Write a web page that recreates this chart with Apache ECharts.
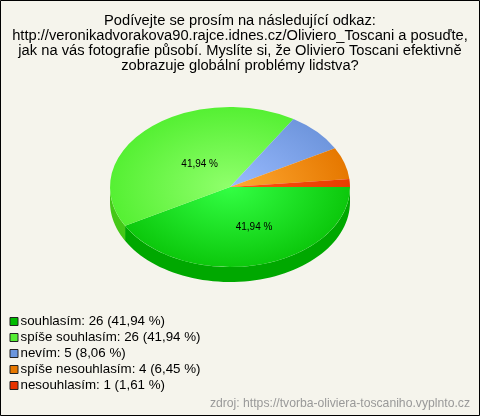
<!DOCTYPE html>
<html><head><meta charset="utf-8">
<style>html,body{margin:0;padding:0;background:#f5f4ec}#c{width:480px;height:416px}</style>
<script src="https://cdn.jsdelivr.net/npm/echarts@6/dist/echarts.min.js"></script>
</head><body><div id="c"></div>
<script>
const categories = ['souhlasím','spíše souhlasím','nevím','spíše nesouhlasím','nesouhlasím'];
const counts = [26,26,5,4,1];
const percents = ['41,94','41,94','8,06','6,45','1,61'];
const titleLines = ['Podívejte se prosím na následující odkaz:','http://veronikadvorakova90.rajce.idnes.cz/Oliviero_Toscani a posuďte,','jak na vás fotografie působí. Myslíte si, že Oliviero Toscani efektivně','zobrazuje globální problémy lidstva?'];
const sourceText = 'zdroj: https://tvorba-oliviera-toscaniho.vyplnto.cz';

const baseColors = ['#00bb00','#55ee33','#6b96dd','#e67700','#e63300'];
const edgeColors = ['#0cc80c','#55f033','#6f96dd','#e67800','#e63c00'];
const centerColors = ['#33ff44','#90ff6c','#99bbff','#ffaa33','#ff5511'];
const wallColors = ['#00a800','#45c818','#5580c0','#c06000','#c02800'];
const labelNudge = [[9,2],[11,6],[0,0],[0,0],[0,0]];

const CX=230, CY=187, RX=120, RY=80, DEPTH=15;
const total = counts.reduce((a,b)=>a+b,0);
const starts = counts.map((_,i)=>counts.slice(0,i).reduce((a,b)=>a+b,0)/total*Math.PI*2);

function renderSlice(i){
  return function(params, api){
    const a0 = starts[i], a1 = a0 + api.value(0)/total*Math.PI*2;
    const children = [];
    const w0 = Math.max(a0,0), w1 = Math.min(a1,Math.PI);
    if (w1 > w0){
      const top=[], bot=[];
      for(let k=0;k<=60;k++){
        const a = w0+(w1-w0)*k/60;
        const x = CX+RX*Math.cos(a), y = CY+RY*Math.sin(a);
        top.push([x,y]); bot.unshift([x,y+DEPTH]);
      }
      children.push({type:'polygon',shape:{points:top.concat(bot)},style:{fill:wallColors[i]}});
    }
    children.push({type:'group',x:CX,y:CY,scaleY:RY/RX,children:[{
      type:'sector',
      shape:{cx:0,cy:0,r0:0,r:RX,startAngle:a0,endAngle:a1,clockwise:true},
      style:{fill:new echarts.graphic.RadialGradient(0,0,RX,[{offset:0,color:centerColors[i]},{offset:1,color:edgeColors[i]}],true)}
    }]});
    if (api.value(0)/total > 0.1){
      const m=(a0+a1)/2;
      children.push({type:'text',
        x:CX+RX*0.5*Math.cos(m)+labelNudge[i][0],
        y:CY+RY*0.5*Math.sin(m)+labelNudge[i][1],
        style:{text:percents[i]+' %',font:'10px "Liberation Sans"',fill:'#000',align:'center',verticalAlign:'middle'}});
    }
    return {type:'group',children};
  };
}
const names = categories.map((c,i)=>`${c}: ${counts[i]} (${percents[i]} %)`);
const chart = echarts.init(document.getElementById('c'),null,{renderer:'canvas'});
chart.setOption({
  animation:false,
  backgroundColor:'#f5f4ec',
  title:{text:titleLines.join('\n'),left:240,top:13,padding:0,textAlign:'center',
    textStyle:{fontFamily:'Liberation Sans',fontSize:14.7,fontWeight:'normal',color:'#000',lineHeight:15.2}},
  legend:{orient:'vertical',left:9.5,top:315,padding:0,itemWidth:8,itemHeight:8,itemGap:3,
    data:names.map(n=>({name:n,icon:'rect'})),selectedMode:false,
    itemStyle:{borderColor:'#222',borderWidth:1},
    textStyle:{fontFamily:'Liberation Sans',fontSize:13.33,color:'#000',padding:[0,0,0,-2.5],lineHeight:13}},
  graphic:[
    {type:'rect',z:100,shape:{x:0.5,y:0.5,width:479,height:415},style:{fill:'none',stroke:'#000',lineWidth:1}},
    {type:'text',z:100,x:470,y:404,style:{text:sourceText,align:'right',verticalAlign:'middle',font:'12.2px "Liberation Sans"',fill:'#999'}}
  ],
  series:names.map((n,i)=>({type:'custom',name:n,coordinateSystem:'none',silent:true,
    data:[[counts[i]]],itemStyle:{color:baseColors[i]},renderItem:renderSlice(i)}))
});
</script></body></html>
